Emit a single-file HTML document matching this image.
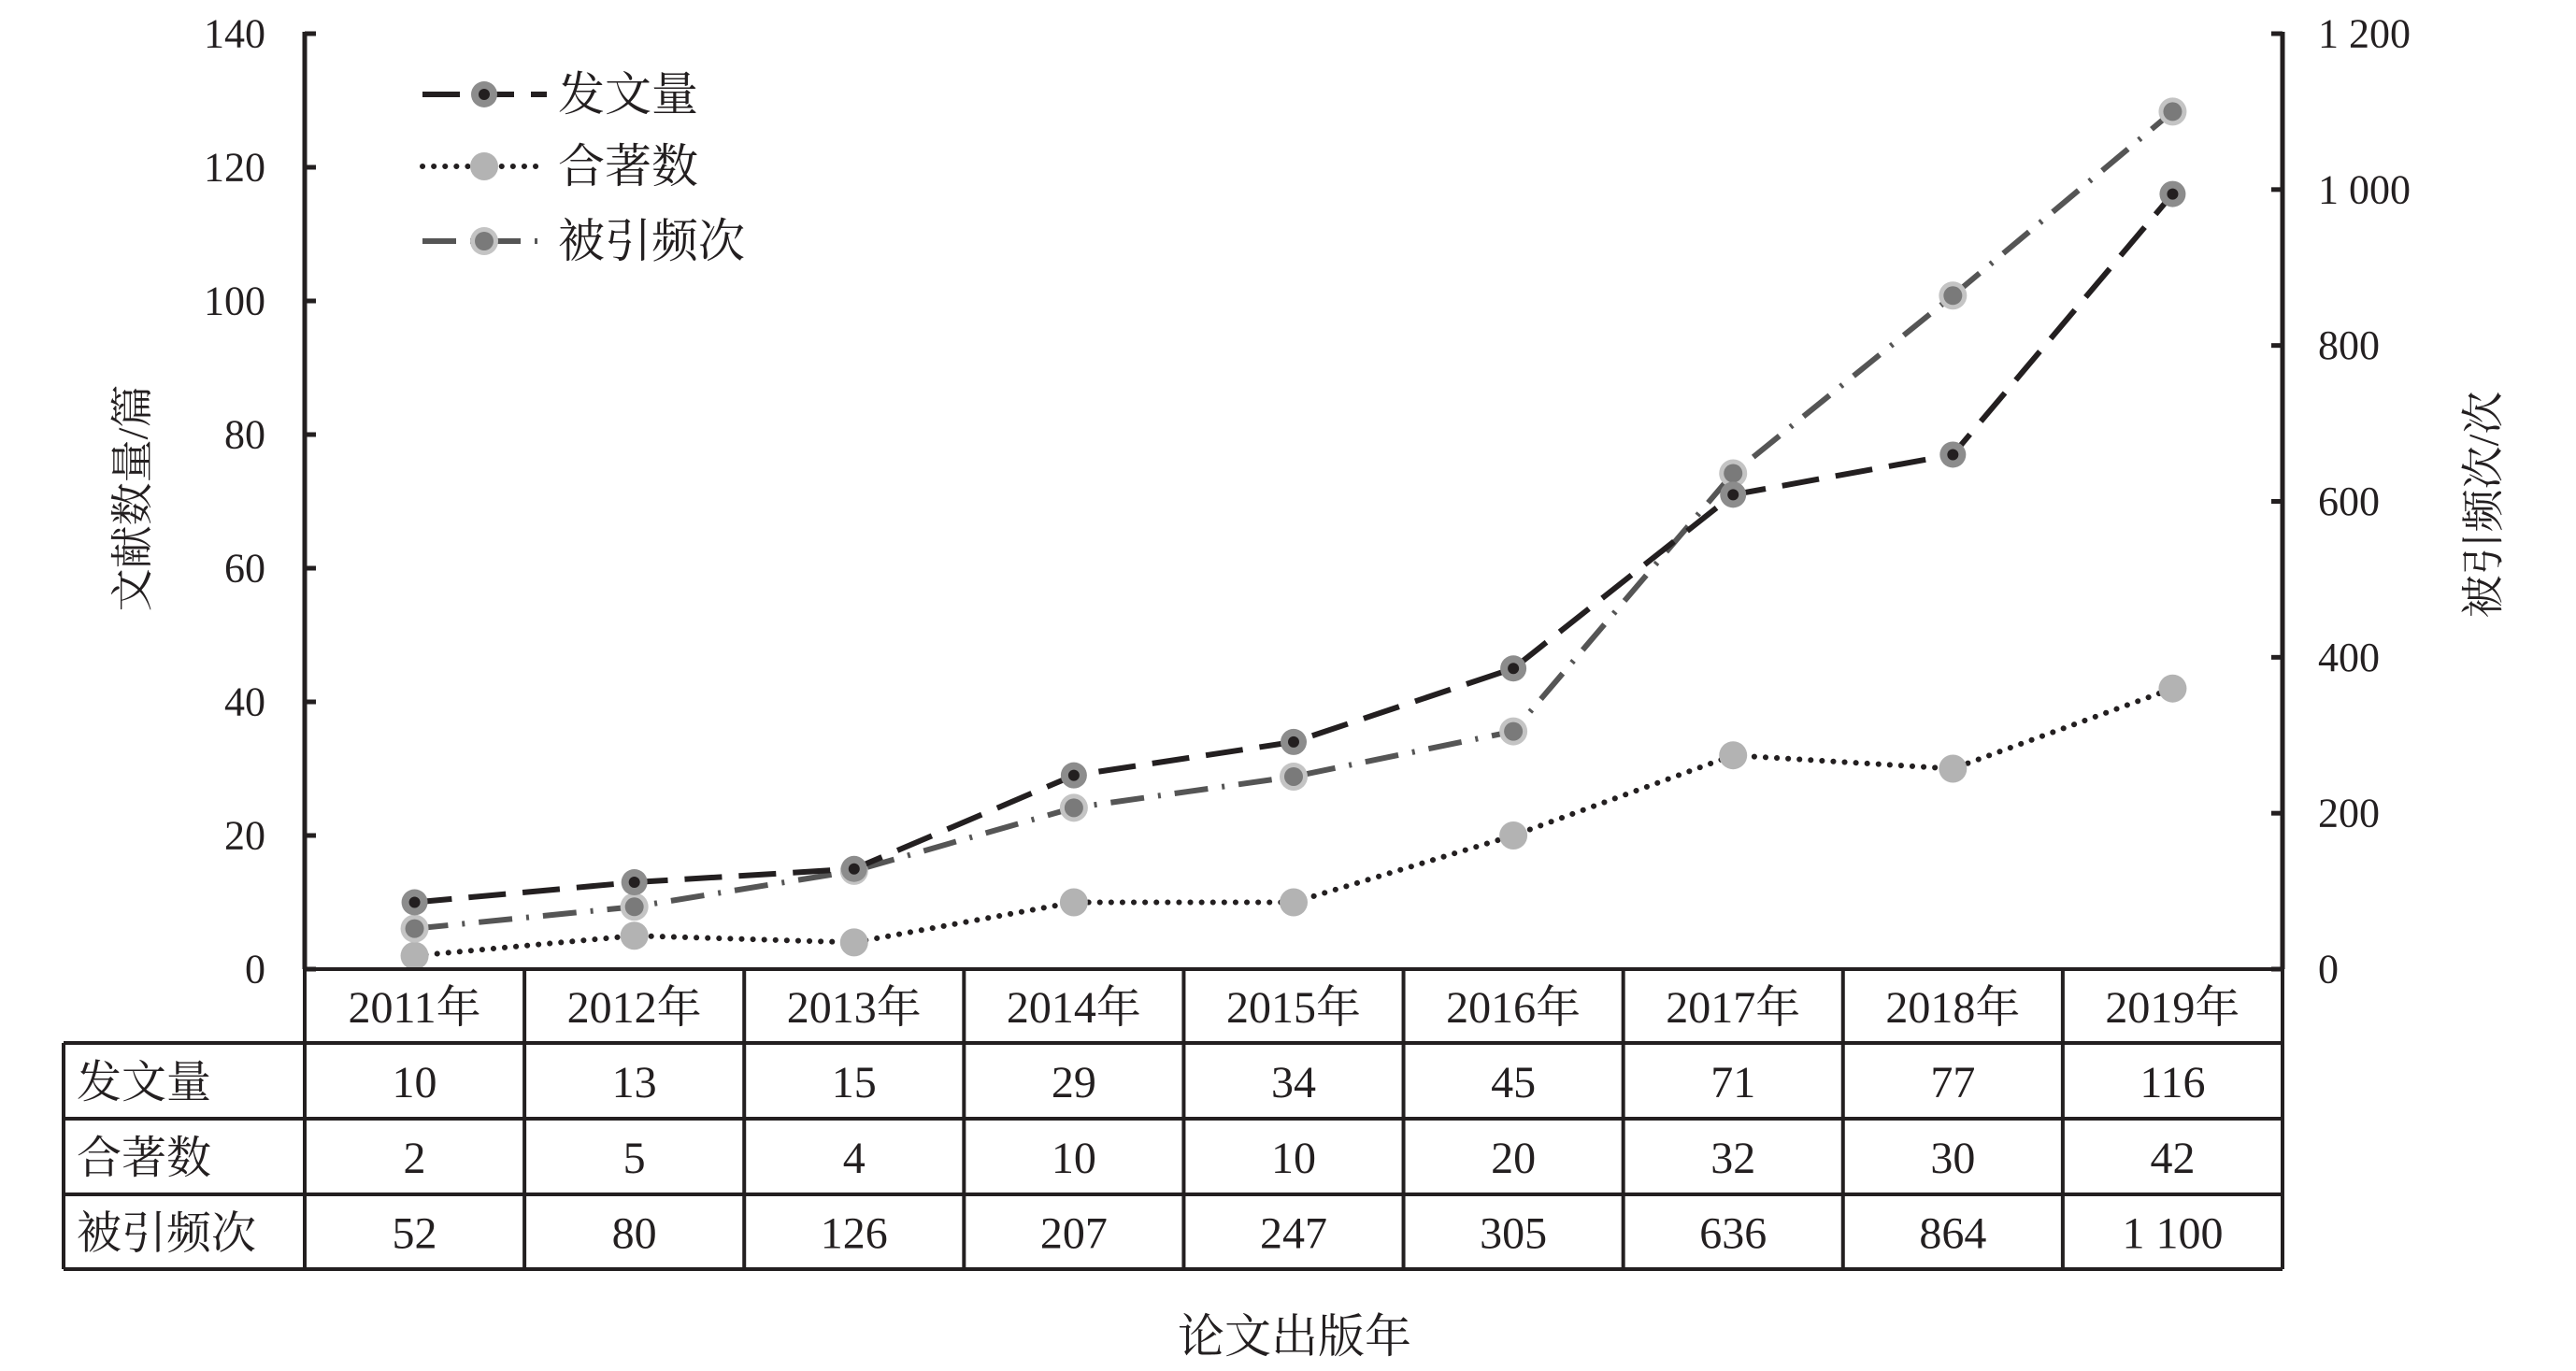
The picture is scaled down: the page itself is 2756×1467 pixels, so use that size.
<!DOCTYPE html>
<html><head><meta charset="utf-8"><style>
html,body{margin:0;padding:0;background:#fff;}
svg{display:block;}
text{font-family:"Liberation Serif","Noto Serif CJK SC","Noto Sans CJK SC",serif;fill:#231f20;}
</style></head><body>
<svg id="chart" width="2756" height="1467" viewBox="0 0 2756 1467" xmlns="http://www.w3.org/2000/svg">
<g id="plot"></g>
</svg>
<script>
const categories = ["2011年","2012年","2013年","2014年","2015年","2016年","2017年","2018年","2019年"];
const papers = [10,13,15,29,34,45,71,77,116];
const coauthored = [2,5,4,10,10,20,32,30,42];
const citations = [52,80,126,207,247,305,636,864,1100];
const leftTicks = [0,20,40,60,80,100,120,140];
const rightTicks = [0,200,400,600,800,1000,1200];
const rightTickLabels = ["0","200","400","600","800","1 000","1 200"];
const citationLabels = ["52","80","126","207","247","305","636","864","1 100"];

const NS = "http://www.w3.org/2000/svg";
const g = document.getElementById('plot');
const X0 = 326, X1 = 2442, YT = 36, YB = 1037;
const colW = (X1 - X0) / categories.length;
const xPos = i => X0 + colW * (i + 0.5);
const yL = v => YB - (v / 140) * (YB - YT);
const yR = v => YB - (v / 1200) * (YB - YT);
function mk(tag, attrs, parent) {
  const e = document.createElementNS(NS, tag);
  for (const k in attrs) e.setAttribute(k, attrs[k]);
  (parent || g).appendChild(e);
  return e;
}
function txt(s, x, y, size, anchor, parent) {
  const t = mk('text', {x: x, y: y, 'font-size': size, 'text-anchor': anchor || 'middle', 'dominant-baseline': 'central'}, parent);
  t.textContent = s;
  return t;
}
let e;
e = mk('line', {x1: X0, y1: YT - 2, x2: X0, y2: YB, stroke: '#231f20', 'stroke-width': 5});
 
e = mk('line', {x1: X1, y1: YT - 2, x2: X1, y2: YB, stroke: '#231f20', 'stroke-width': 5});
 
leftTicks.forEach(v => {
  const t = mk('line', {x1: X0, y1: yL(v), x2: X0 + 12, y2: yL(v), stroke: '#231f20', 'stroke-width': 5});
   
  const l = txt(String(v), 284, yL(v), 44, 'end');
   
});
rightTicks.forEach((v, i) => {
  const t = mk('line', {x1: X1 - 12, y1: yR(v), x2: X1, y2: yR(v), stroke: '#231f20', 'stroke-width': 5});
   
  const l = txt(rightTickLabels[i], 2480, yR(v), 44, 'start');
   
});
e = txt('文献数量/篇', 0, 0, 46);
e.setAttribute('transform', 'translate(142,533) rotate(-90)');
 
e = txt('被引频次/次', 0, 0, 46);
e.setAttribute('transform', 'translate(2657,540) rotate(-90)');
 

const styles = {
  papers: {stroke: '#231f20', dash: '40 18', cap: 'butt', w: 6},
  co: {stroke: '#231f20', dash: '0.1 12', cap: 'round', w: 6},
  cit: {stroke: '#555555', dash: '36 15 3 15', cap: 'butt', w: 6}
};
function marker(kind, x, y, parent) {
  if (kind === 'papers') {
    mk('circle', {cx: x, cy: y, r: 14, fill: '#8c8c8c'}, parent);
    mk('circle', {cx: x, cy: y, r: 6, fill: '#231f20'}, parent);
  } else if (kind === 'co') {
    mk('circle', {cx: x, cy: y, r: 15, fill: '#b3b3b3'}, parent);
  } else {
    mk('circle', {cx: x, cy: y, r: 15, fill: '#c4c4c4'}, parent);
    mk('circle', {cx: x, cy: y, r: 10, fill: '#7a7a7a'}, parent);
  }
}
function series(name, vals, yf, kind) {
  const sg = mk('g', {});
   
  const s = styles[kind];
  const pts = vals.map((v, i) => xPos(i) + ',' + yf(v)).join(' ');
  const pl = mk('polyline', {points: pts, fill: 'none', stroke: s.stroke, 'stroke-width': s.w, 'stroke-dasharray': s.dash, 'stroke-linecap': s.cap}, sg);
   
  vals.forEach((v, i) => {
    const m = mk('g', {}, sg);
     
    marker(kind, xPos(i), yf(v), m);
  });
}
series('coauthored-series', coauthored, yL, 'co');
series('citations-series', citations, yR, 'cit');
series('papers-series', papers, yL, 'papers');

const legend = [['发文量', 'papers'], ['合著数', 'co'], ['被引频次', 'cit']];
const legY = [101, 178, 258];
legend.forEach((L, i) => {
  const lg = mk('g', {});
   
  const s = styles[L[1]];
  mk('line', {x1: 452, y1: legY[i], x2: 585, y2: legY[i], stroke: s.stroke, 'stroke-width': s.w, 'stroke-dasharray': s.dash, 'stroke-linecap': s.cap}, lg);
  marker(L[1], 518, legY[i], lg);
  txt(L[0], 597, legY[i], 50, 'start', lg);
});

const tg = mk('g', {});
 
const rowsY = [1037, 1116, 1197, 1278, 1358];
const TL = 68;
const ln = (x1, y1, x2, y2) => mk('line', {x1: x1, y1: y1, x2: x2, y2: y2, stroke: '#231f20', 'stroke-width': 4}, tg);
ln(X0, rowsY[0], X1, rowsY[0]);
for (let r = 1; r < rowsY.length; r++) ln(TL, rowsY[r], X1, rowsY[r]);
ln(TL, rowsY[1], TL, rowsY[4]);
for (let c = 0; c <= categories.length; c++) ln(X0 + colW * c, rowsY[0], X0 + colW * c, rowsY[4]);
categories.forEach((c, i) => {
  const t = txt(c, xPos(i), (rowsY[0] + rowsY[1]) / 2 + 2, 48, 'middle', tg);
   
});
const rowNames = ['发文量', '合著数', '被引频次'];
const rowVals = [papers.map(String), coauthored.map(String), citationLabels];
rowNames.forEach((n, r) => {
  const cy = (rowsY[r + 1] + rowsY[r + 2]) / 2 + 2;
  const h = txt(n, 82, cy, 48, 'start', tg);
   
  rowVals[r].forEach((v, i) => {
    const t = txt(v, xPos(i), cy, 48, 'middle', tg);
     
  });
});
e = txt('论文出版年', 1385, 1430, 50);
 
</script>
</body></html>
